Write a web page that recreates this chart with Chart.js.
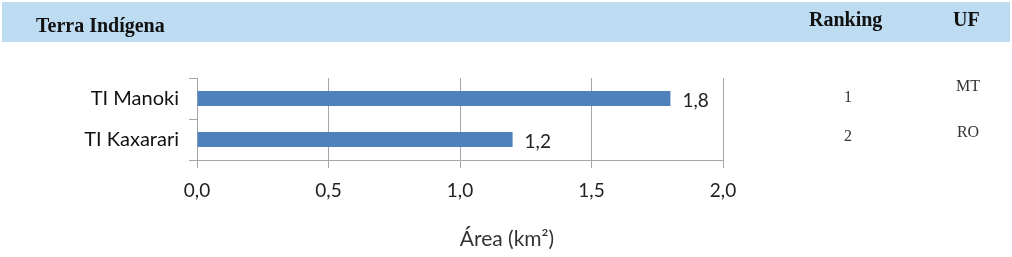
<!DOCTYPE html>
<html>
<head>
<meta charset="utf-8">
<script src="https://cdn.jsdelivr.net/npm/chart.js@4/dist/chart.umd.min.js"></script>
<style>
html,body{margin:0;padding:0;background:#fff;}
#wrap{position:relative;width:1012px;height:257px;}
</style>
</head>
<body>
<div id="wrap"><canvas id="c" width="1012" height="257"></canvas></div>
<script>
const categories = ["TI Manoki", "TI Kaxarari"];
const areaValues = [1.8, 1.2];
const rankings = ["1", "2"];
const ufs = ["MT", "RO"];
const xTickValues = [0, 0.5, 1.0, 1.5, 2.0];
const headerLabels = ["Terra Indígena", "Ranking", "UF"];
const axisTitle = "Área (km²)";

const fmt = v => v.toFixed(1).replace('.', ',');
const sans = "Lato, 'Open Sans', sans-serif";
const serif = "'Liberation Serif', 'DejaVu Serif', serif";

const extras = {
  id: 'extras',
  beforeDraw(chart) {
    const ctx = chart.ctx;
    ctx.save();
    ctx.fillStyle = '#BDDCF2';
    ctx.fillRect(2, 2, 1008, 40);
    ctx.restore();
  },
  afterDraw(chart) {
    const ctx = chart.ctx;
    ctx.save();
    // header
    ctx.fillStyle = '#111';
    ctx.font = "bold 20px " + serif;
    ctx.textBaseline = 'alphabetic';
    ctx.textAlign = 'left';
    ctx.fillText(headerLabels[0], 36, 32);
    ctx.fillText(headerLabels[1], 809, 26);
    ctx.fillText(headerLabels[2], 953, 26);
    // data labels
    ctx.textBaseline = 'middle';
    const meta = chart.getDatasetMeta(0);
    ctx.font = "19px " + sans;
    ctx.fillStyle = '#222';
    meta.data.forEach((bar, i) => {
      ctx.fillText(fmt(areaValues[i]), bar.x + 12, bar.y + 2);
    });
    // ranking and UF
    ctx.font = "16px " + serif;
    ctx.fillStyle = '#333';
    ctx.textAlign = 'center';
    const yScale = chart.scales.y;
    rankings.forEach((r, i) => {
      const y = yScale.getPixelForValue(i);
      ctx.fillText(r, 848, y + (i === 0 ? -1 : -3));
    });
    ufs.forEach((u, i) => {
      const y = yScale.getPixelForValue(i);
      ctx.fillText(u, 968, y + (i === 0 ? -12 : -7));
    });
    // axis title
    ctx.font = "21px " + sans;
    ctx.fillStyle = '#333';
    ctx.textAlign = 'center';
    ctx.fillText(axisTitle, 507, 239);
    ctx.restore();
  }
};

new Chart(document.getElementById('c'), {
  type: 'bar',
  data: {
    labels: categories,
    datasets: [{
      data: areaValues,
      backgroundColor: '#4F81BD',
      borderWidth: 0,
      barPercentage: 0.74,
      categoryPercentage: 0.5
    }]
  },
  options: {
    indexAxis: 'y',
    responsive: false,
    animation: false,
    devicePixelRatio: 1,
    layout: { padding: { left: 0, right: 289, top: 78, bottom: 0 } },
    plugins: { legend: { display: false }, tooltip: { enabled: false } },
    scales: {
      x: {
        min: 0, max: 2,
        afterBuildTicks(scale) { scale.ticks = xTickValues.map(v => ({ value: v })); },
        afterFit(scale) { scale.height = 97; },
        ticks: {
          callback: v => fmt(v),
          color: '#222',
          font: { family: sans, size: 19 },
          padding: 11,
          maxRotation: 0
        },
        grid: { color: '#A6A6A6', lineWidth: 1, tickLength: 8, drawTicks: true },
        border: { color: '#A6A6A6' }
      },
      y: {
        afterFit(scale) { scale.width = 197; },
        ticks: {
          color: '#111',
          font: { family: sans, size: 20 },
          padding: 10
        },
        grid: { drawOnChartArea: false, color: '#A6A6A6', tickLength: 8, offset: true },
        border: { color: '#A6A6A6' }
      }
    }
  },
  plugins: [extras]
});
</script>
</body>
</html>
